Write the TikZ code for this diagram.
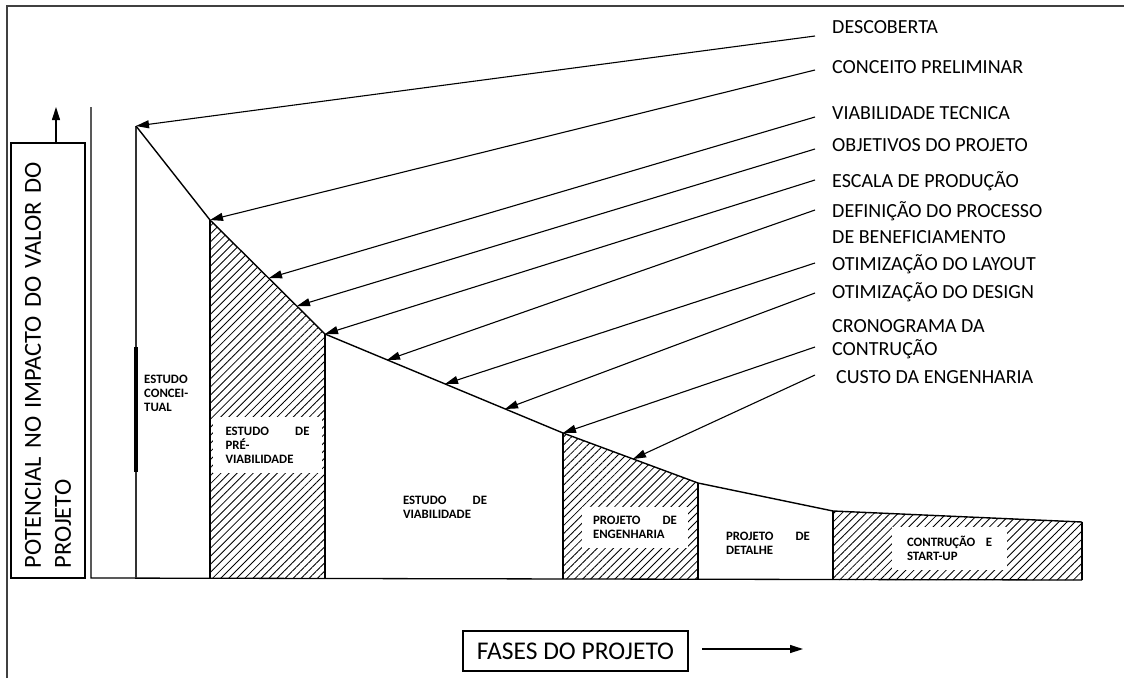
\documentclass[tikz,border=0pt]{standalone}
\usepackage{fontspec}
\setmainfont{Carlito}
\usetikzlibrary{arrows.meta,patterns.meta}

\begin{document}
\begin{tikzpicture}[x=1pt,y=-1pt,
  frame/.style={line width=1.2pt,black!75},
  axisline/.style={line width=1.3pt},
  curve/.style={line width=1.4pt,line join=round},
  wall/.style={line width=2.3pt},
  pole/.style={line width=1.1pt,black!80},
  pointer/.style={line width=1.1pt,-{Triangle[length=13pt,width=8pt]}},
  hatch/.style={pattern={Lines[angle=45,distance=5.7pt,line width=0.85pt]}},
  item/.style={font=\fontsize{20}{24}\selectfont,inner sep=0pt,anchor=base west,align=left},
  phase/.style={font=\bfseries\fontsize{12.8}{14}\selectfont,inner sep=0pt,align=left},
  whitebox/.style={phase,fill=white},
  axisbox/.style={draw,line width=1.1pt,inner sep=0pt}
]
\useasboundingbox (0,0) rectangle (1124,678);

% page frame
\draw[frame] (7,678) -- (7,6) -- (1124,6);

% corner points of the value curve
\coordinate (p0) at (136,126);
\coordinate (p1) at (210,220);
\coordinate (p2) at (325,334);
\coordinate (p3) at (563,433);
\coordinate (p4) at (698,483);
\coordinate (p5) at (833,511);
\coordinate (p6) at (1082,522);
% their feet on the time axis
\coordinate (b0) at (136,578);
\coordinate (b1) at (210,578);
\coordinate (b2) at (325,578);
\coordinate (b3) at (563,579);
\coordinate (b4) at (698,579);
\coordinate (b5) at (833,580);
\coordinate (b6) at (1082,580);
% axes
\coordinate (ao) at (91,578);
\coordinate (atop) at (91,107);

% hatched phases
\fill[hatch] (p1) -- (p2) -- (b2) -- (b1) -- cycle;
\fill[hatch] (p3) -- (p4) -- (b4) -- (b3) -- cycle;
\fill[hatch] (p5) -- (p6) -- (b6) -- (b5) -- cycle;

% axes and phase limits
\draw[axisline] (atop) -- (ao) -- (b6);
\draw[pole] (b0) -- (p0);
\draw[line width=3.6pt] (136,347) -- (136,472);
\foreach \i in {1,...,6} \draw[wall] (b\i) -- (p\i);
\draw[curve] (p0) -- (p1) -- (p2) -- (p3) -- (p4) -- (p5) -- (p6);

% phase names
\node[phase,anchor=west] (fc) at (144,393) {ESTUDO\\CONCEI-\\TUAL};
\node[whitebox,minimum width=109pt,minimum height=56pt] (fp) at (267.5,445)
  {\makebox[84pt][s]{ESTUDO DE}\\PRÉ-\\VIABILIDADE};
\node[phase] (fv) at (445,507) {\makebox[84pt][s]{ESTUDO DE}\\VIABILIDADE};
\node[whitebox,minimum width=106pt,minimum height=41pt] (fe) at (635,527.5)
  {\makebox[84pt][s]{PROJETO DE}\\ENGENHARIA};
\node[phase] (fd) at (768,543) {\makebox[84pt][s]{PROJETO DE}\\DETALHE};
\node[whitebox,minimum width=115pt,minimum height=43pt] (fs) at (949.5,548.5)
  {\makebox[85pt][s]{CONTRUÇÃO E}\\START-UP};

% decision items (base = baseline of the last line)
\node[item] (l1) at (832,33) {DESCOBERTA};
\node[item] (l2) at (832,73) {CONCEITO PRELIMINAR};
\node[item] (l3) at (832,119) {VIABILIDADE TECNICA};
\node[item] (l4) at (832,151) {OBJETIVOS DO PROJETO};
\node[item] (l5) at (832,187) {ESCALA DE PRODUÇÃO};
\node[item,font=\fontsize{20}{26}\selectfont] (l6) at (832,243) {DEFINIÇÃO DO PROCESSO\\DE BENEFICIAMENTO};
\node[item] (l7) at (832,270) {OTIMIZAÇÃO DO LAYOUT};
\node[item] (l8) at (832,298) {OTIMIZAÇÃO DO DESIGN};
\node[item,font=\fontsize{20}{23}\selectfont] (l9) at (832,355) {CRONOGRAMA DA\\CONTRUÇÃO};
\node[item] (l10) at (836,383) {CUSTO DA ENGENHARIA};

% where the pointers leave the items
\coordinate (s1) at (815,36);
\coordinate (s2) at (815,70);
\coordinate (s3) at (815,117);
\coordinate (s4) at (815,149);
\coordinate (s5) at (815,180);
\coordinate (s6) at (815,210);
\coordinate (s7) at (815,263);
\coordinate (s8) at (815,293);
\coordinate (s9) at (815,347);
\coordinate (s10) at (815,375);
% where they meet the curve
\coordinate (t3) at (269,278);
\coordinate (t4) at (297,306);
\coordinate (t6) at (387,360);
\coordinate (t7) at (445,384);
\coordinate (t8) at (505,409);
\coordinate (t10) at (633,459);

\draw[pointer] (s1) -- (p0);
\draw[pointer] (s2) -- (p1);
\draw[pointer] (s3) -- (t3);
\draw[pointer] (s4) -- (t4);
\draw[pointer] (s5) -- (p2);
\draw[pointer] (s6) -- (t6);
\draw[pointer] (s7) -- (t7);
\draw[pointer] (s8) -- (t8);
\draw[pointer] (s9) -- (p3);
\draw[pointer] (s10) -- (t10);

% axis titles
\node[axisbox,rotate=90,minimum width=435pt,minimum height=74pt,text width=416pt,align=left,
  font=\fontsize{24.5}{30}\selectfont] (ylab) at (48,360.5)
  {POTENCIAL NO IMPACTO DO VALOR DO\\PROJETO};
\coordinate (yup) at (56,107);
\draw[pointer] (ylab.east -| yup) -- (yup);

\node[axisbox,minimum width=225pt,minimum height=40pt,font=\fontsize{25.5}{30}\selectfont] (xlab) at (575.5,651) {FASES DO PROJETO};
\coordinate (xright) at (803,649);
\draw[pointer,line width=1.3pt] (702,649) -- (xright);
\end{tikzpicture}
\end{document}
